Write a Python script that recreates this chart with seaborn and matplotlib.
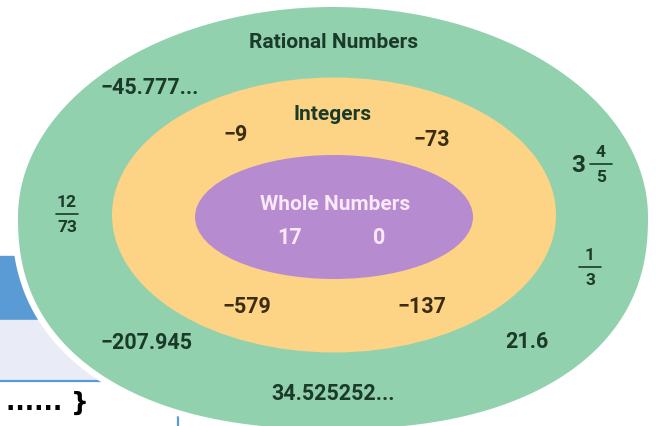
import numpy as np
import pandas as pd
import matplotlib
matplotlib.use("Agg")
import matplotlib.pyplot as plt
import seaborn as sns
from matplotlib.patches import Ellipse, Polygon, Rectangle

# === Data ===
set_names = ["Rational Numbers", "Integers", "Whole Numbers"]
rational_members = ["\u221245.777...", "\u2212207.945", "21.6", "34.525252..."]
rational_fractions = [("", "12", "73"), ("3", "4", "5"), ("", "1", "3")]
integer_members = ["\u22129", "\u221273", "\u2212579", "\u2212137"]
whole_members = ["17", "0"]

# === Layout (pixel space) ===
name_pos = [(334, 42), (333, 115), (335, 205)]
rational_pos = [(150, 88), (146, 343), (527, 342), (333, 394)]
fraction_pos = [(67, 215), (601, 165), (590, 268)]
integer_pos = [(236, 135), (432, 140), (247, 307), (422, 307)]
whole_pos = [(290, 238), (379, 238)]

colors = {"rational": "#92d1ae", "integers": "#fdd385", "whole": "#b78bcf",
          "txt_green": "#1b3a29", "txt_orange": "#3b2c12", "txt_whole": "#fbe8fa",
          "blue": "#5b9bd5", "lavender": "#e9ebf6"}

sns.set_theme(style="white")
plt.rcParams['font.family'] = ['Roboto', 'DejaVu Sans']
plt.rcParams['font.weight'] = 'bold'
FS = 15.5


def blob(cx, cy, a, b_top, b_bot, n_top=2.0, n_bot=2.0, npts=400):
    t = np.linspace(0, 2 * np.pi, npts)
    c, s = np.cos(t), np.sin(t)
    n = np.where(s < 0, n_top, n_bot)
    b = np.where(s < 0, b_top, b_bot)
    x = cx + a * np.sign(c) * np.abs(c) ** (2 / n)
    y = cy + b * np.sign(s) * np.abs(s) ** (2 / n)
    return np.column_stack([x, y])


def draw_fraction(ax, x, y, whole, num, den, color, size=12.5):
    if whole:
        ax.text(x - 23, y + 1, whole, ha="center", va="center", fontsize=size + 5,
                color=color, fontweight="bold", zorder=5)
    ax.text(x, y - 12, num, ha="center", va="center", fontsize=size, color=color,
            fontweight="bold", zorder=5)
    ax.text(x, y + 13, den, ha="center", va="center", fontsize=size, color=color,
            fontweight="bold", zorder=5)
    ax.plot([x - 11, x + 11], [y, y], color=color, lw=1.2, zorder=5)


fig = plt.figure(figsize=(6.56, 4.27), dpi=100)
ax = fig.add_axes([0, 0, 1, 1])
ax.set_xlim(0, 656)
ax.set_ylim(427, 0)
ax.axis("off")

# background slide pieces peeking out on the left
ax.add_patch(Rectangle((0, 257), 220, 64, color=colors["blue"], zorder=0))
ax.add_patch(Rectangle((0, 321), 220, 60, color=colors["lavender"], zorder=0))
ax.plot([0, 220], [382, 382], color=colors["blue"], lw=1.6, zorder=0)
ax.plot([178, 178], [415, 427], color=colors["blue"], lw=1.6, zorder=0)
ax.text(6, 403, "...... }", ha="left", va="center", fontsize=18, color="black",
        fontweight="bold", family="DejaVu Sans", zorder=0)

# nested sets
outer = blob(333, 218, 315, 210, 212, 2.0, 2.3)
ax.add_patch(Polygon(outer, closed=True, facecolor="white", edgecolor="white", lw=9, zorder=1))
ax.add_patch(Polygon(outer, closed=True, facecolor=colors["rational"], edgecolor="none", zorder=2))
ax.add_patch(Ellipse((334, 216), 444, 275, facecolor=colors["integers"], edgecolor="none", zorder=3))
ax.add_patch(Ellipse((334, 218), 278, 124, facecolor=colors["whole"], edgecolor="none", zorder=4))

name_colors = [colors["txt_green"], colors["txt_green"], colors["txt_whole"]]
for name, (x, y), col in zip(set_names, name_pos, name_colors):
    ax.text(x, y, name, ha="center", va="center", fontsize=FS - 0.5, color=col, zorder=5)

for val, (x, y) in zip(rational_members, rational_pos):
    ax.text(x, y, val, ha="center", va="center", fontsize=FS, color=colors["txt_green"], zorder=5)

for (w, n, d), (x, y) in zip(rational_fractions, fraction_pos):
    draw_fraction(ax, x, y, w, n, d, colors["txt_green"])

for val, (x, y) in zip(integer_members, integer_pos):
    ax.text(x, y, val, ha="center", va="center", fontsize=FS, color=colors["txt_orange"], zorder=5)

for val, (x, y) in zip(whole_members, whole_pos):
    ax.text(x, y, val, ha="center", va="center", fontsize=FS, color=colors["txt_whole"], zorder=5)

plt.savefig("out.png", dpi=100)
plt.close()
